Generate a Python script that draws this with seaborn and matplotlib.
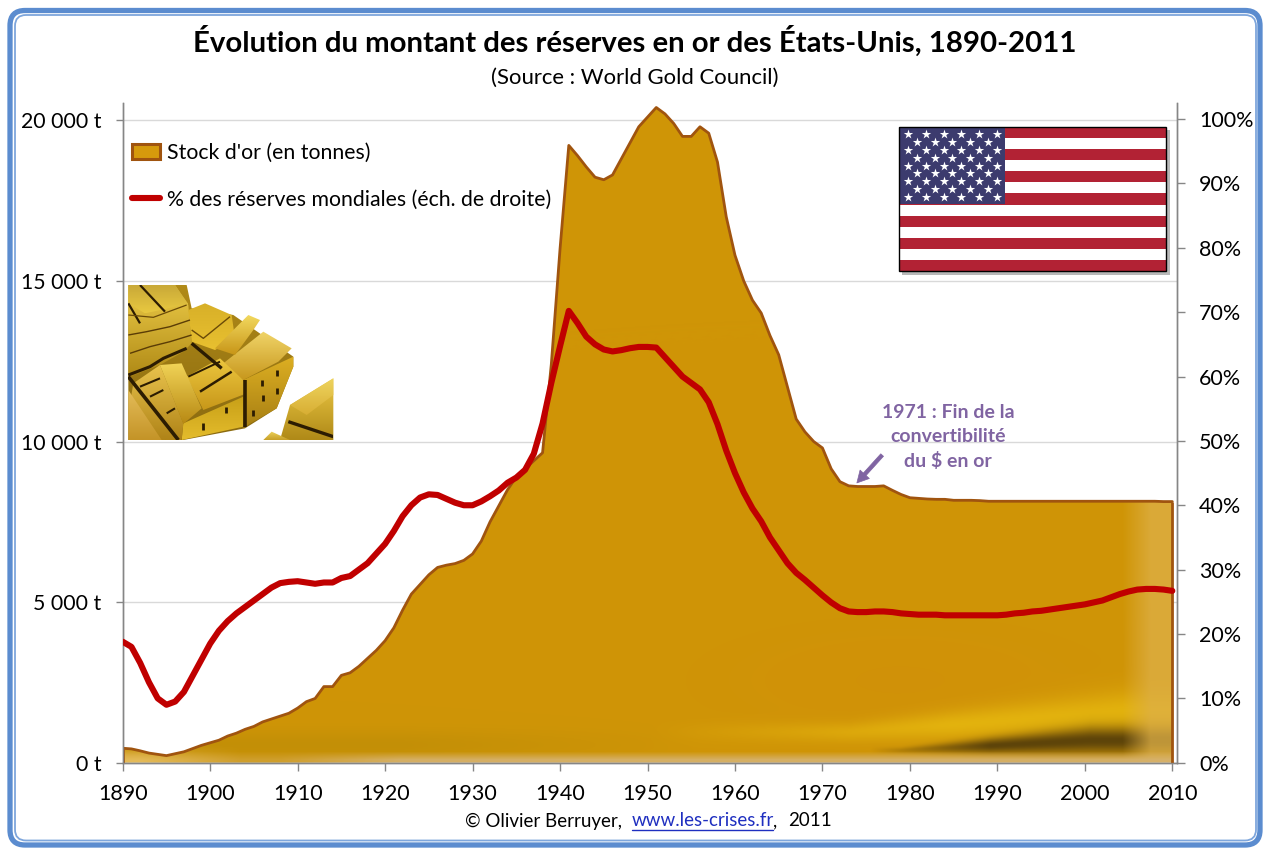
import numpy as np
import pandas as pd
import seaborn as sns
import matplotlib
matplotlib.use('Agg')
import matplotlib.pyplot as plt
from matplotlib.colors import to_rgb
from matplotlib.patches import FancyBboxPatch, Rectangle, Polygon, Patch
from matplotlib.lines import Line2D

# Data, one value per year
years = list(range(1890, 2011))
gold_tonnes = [
    450, 430, 370, 300, 260, 220, 280, 340, 440, 540,
    620, 700, 830, 920, 1040, 1130, 1270, 1360, 1450, 1540,
    1700, 1900, 2000, 2370, 2370, 2720, 2800, 3000, 3250, 3500,
    3800, 4200, 4750, 5250, 5550, 5850, 6080, 6150, 6200, 6300,
    6500, 6900, 7500, 8000, 8500, 8900, 9150, 9400, 9650, 12400,
    16000, 19220, 18900, 18550, 18230, 18150, 18300, 18800, 19300, 19800,
    20100, 20400, 20200, 19900, 19500, 19500, 19800, 19600, 18700, 17000,
    15800, 15000, 14400, 14000, 13300, 12700, 11700, 10700, 10300, 10000,
    9800, 9150, 8750, 8620, 8600, 8600, 8600, 8620, 8480, 8350,
    8250, 8230, 8210, 8200, 8200, 8170, 8170, 8170, 8160, 8140,
    8140, 8140, 8140, 8140, 8140, 8140, 8140, 8140, 8140, 8140,
    8140, 8140, 8140, 8140, 8140, 8140, 8140, 8140, 8140, 8130, 8130,
]
world_share = [
    18.8, 18.0, 15.5, 12.5, 10.0, 9.0, 9.5, 11.0, 13.5, 16.0,
    18.5, 20.5, 22.0, 23.2, 24.2, 25.2, 26.2, 27.2, 27.9, 28.1,
    28.2, 28.0, 27.8, 28.0, 28.0, 28.7, 29.0, 30.0, 31.0, 32.5,
    34.0, 36.0, 38.3, 40.0, 41.2, 41.7, 41.6, 41.0, 40.4, 40.0,
    40.0, 40.6, 41.4, 42.3, 43.5, 44.3, 45.5, 48.0, 52.7, 59.0,
    64.7, 70.2, 68.3, 66.2, 65.0, 64.2, 63.9, 64.1, 64.4, 64.6,
    64.6, 64.5, 63.0, 61.5, 60.0, 59.0, 58.0, 56.0, 52.6, 48.5,
    45.0, 42.0, 39.5, 37.5, 35.0, 33.0, 31.0, 29.5, 28.4, 27.2,
    26.0, 24.9, 24.0, 23.5, 23.4, 23.4, 23.5, 23.5, 23.4, 23.2,
    23.1, 23.0, 23.0, 23.0, 22.9, 22.9, 22.9, 22.9, 22.9, 22.9,
    22.9, 23.0, 23.2, 23.3, 23.5, 23.6, 23.8, 24.0, 24.2, 24.4,
    24.6, 24.9, 25.2, 25.7, 26.2, 26.6, 26.9, 27.0, 27.0, 26.9, 26.7,
]
x_ticks = list(range(1890, 2011, 10))
left_ticks = [0, 5000, 10000, 15000, 20000]
left_labels = ['0 t', '5 000 t', '10 000 t', '15 000 t', '20 000 t']
right_ticks = list(range(0, 101, 10))
right_labels = [f'{v}%' for v in right_ticks]

df = pd.DataFrame({'year': years, 'gold': gold_tonnes, 'share': world_share})

sns.set_theme(style='white')
plt.rcParams['font.family'] = ['Lato', 'DejaVu Sans']

W, H = 1269, 852
AXIS_GREY = '#868686'
GOLD_EDGE = '#a0540f'
RED = '#c00000'
PURPLE = '#8064a2'

fig = plt.figure(figsize=(W / 100, H / 100), dpi=100, facecolor='white')
L, R, T, B = 122.7, 1176.7, 103, 762.7
ax = fig.add_axes([L / W, 1 - B / H, (R - L) / W, (B - T) / H])

# gold stock, filled with a painted texture clipped to the area
ax.set_xlim(1890, 2010.5)
ax.set_ylim(0, 20540)
area = ax.fill_between(df['year'], df['gold'], 0, color='none', lw=0)

px, py = np.meshgrid(np.arange(L, R), np.arange(T, B))


def blend(img, colour, weight):
    return img * (1 - weight[..., None]) + np.array(colour) * weight[..., None]


tex = np.ones(px.shape + (3,)) * np.array([207, 149, 6])
tex = blend(tex, (212, 140, 12), 0.35 * np.exp(-((px - 900) / 200) ** 2 - ((py - 680) / 60) ** 2))
# yellow band rising to the right
band_y = 732 - np.clip((px - 850) / 280, 0, 1) * 20
band = np.exp(-((py - band_y) / (10 + np.clip((px - 850) / 280, 0, 1) * 12)) ** 2) * np.clip((px - 650) / 300, 0, 1)
tex = blend(tex, (228, 180, 14), 0.95 * band)
tex = blend(tex, (184, 138, 8), 0.5 * np.exp(-((py - 745) / 14) ** 2) * np.clip((700 - px) / 300, 0, 1))
# dark patch near the bottom, growing to the right
grow = np.clip((px - 900) / 190, 0, 1)
blob_w = np.exp(-((py - (750 - 10 * grow)) / (3 + 10 * grow)) ** 2) * np.clip((px - 870) / 120, 0, 1)
tex = blend(tex, (88, 64, 10), 0.95 * blob_w)
edge = np.clip((px - 1122) / 28, 0, 1)
tex = blend(tex, (222, 176, 72), 0.75 * edge)
low = np.clip((py - 751) / 8, 0, 1) * np.clip((px - 200) / 200, 0.4, 1)
tex = blend(tex, (214, 178, 110), 0.9 * low)
low_left = np.clip((py - 745) / 15, 0, 1) * np.clip((240 - px) / 100, 0, 1)
tex = blend(tex, (228, 186, 88), low_left)

img = ax.imshow(tex.astype(np.uint8), extent=[1890, 2010.5, 0, 20540], aspect='auto',
                origin='upper', zorder=2, interpolation='bilinear')
img.set_clip_path(area.get_paths()[0], transform=ax.transData)

sns.lineplot(data=df, x='year', y='gold', ax=ax, color=GOLD_EDGE, lw=2.0, zorder=3,
             solid_joinstyle='round')
ax.vlines([years[0], years[-1]], 0, [gold_tonnes[0], gold_tonnes[-1]], color=GOLD_EDGE, lw=2.0, zorder=3)

ax.set_xticks(x_ticks)
ax.set_yticks(left_ticks)
ax.set_yticklabels(left_labels)
ax.set_xlabel('')
ax.set_ylabel('')
ax.yaxis.grid(True, color='#d9d9d9', lw=1)
ax.set_axisbelow(True)
ax.tick_params(axis='x', length=5.5, width=1, color=AXIS_GREY, pad=10, labelsize=15.5, labelcolor='black', bottom=True)
ax.tick_params(axis='y', length=5.4, width=1, color=AXIS_GREY, pad=10, labelsize=15.3, labelcolor='black', left=True)
ax.spines['top'].set_visible(False)
for s in ['left', 'right', 'bottom']:
    ax.spines[s].set_color(AXIS_GREY)
    ax.spines[s].set_linewidth(1)

# share of world reserves, right scale
ax2 = ax.twinx()
sns.lineplot(data=df, x='year', y='share', ax=ax2, color=RED, lw=4.4, zorder=4,
             solid_capstyle='round', solid_joinstyle='round')
ax2.set_ylim(0, 102.5)
ax2.set_yticks(right_ticks)
ax2.set_yticklabels(right_labels)
ax2.set_ylabel('')
ax2.tick_params(axis='y', length=6, width=1, color=AXIS_GREY, pad=10, labelsize=15.5, labelcolor='black', right=True)
ax2.spines['top'].set_visible(False)
for s in ['left', 'right', 'bottom']:
    ax2.spines[s].set_color(AXIS_GREY)
    ax2.spines[s].set_linewidth(1)

# everything around the plot is placed in pixels on a transparent overlay
over = fig.add_axes([0, 0, 1, 1], zorder=5)
over.set_xlim(0, W)
over.set_ylim(H, 0)
over.axis('off')
over.patch.set_alpha(0)

over.add_patch(FancyBboxPatch((10, 10.5), 1250, 834.5, boxstyle='round,pad=0,rounding_size=15',
                              fc='none', ec='#5b8ccf', lw=3.8))
over.add_patch(FancyBboxPatch((15, 15), 1241, 825.5, boxstyle='round,pad=0,rounding_size=11',
                              fc='none', ec='#7ea6dc', lw=1.3))

over.text(634.5, 41, 'Évolution du montant des réserves en or des États-Unis, 1890-2011',
          ha='center', va='center', fontsize=21.2, fontweight='bold', color='black')
over.text(635, 78, '(Source : World Gold Council)', ha='center', va='center', fontsize=15.9, color='black')

# footer with the link
over.text(465, 821, '© Olivier Berruyer,', ha='left', va='center', fontsize=13.5, color='black')
over.text(631.5, 821, 'www.les-crises.fr', ha='left', va='center', fontsize=13.5, color='#1f2fc0')
over.plot([631.5, 772.5], [830, 830], color='#1f2fc0', lw=1)
over.text(773.5, 821, ',', ha='left', va='center', fontsize=13.5, color='black')
over.text(788, 821, '2011', ha='left', va='center', fontsize=13.5, color='black')

# legend
handles = [Patch(facecolor='#d69a0c', edgecolor=GOLD_EDGE, lw=2.2),
           Line2D([0], [0], color=RED, lw=4.4, solid_capstyle='round')]
over.legend(handles, ["Stock d'or (en tonnes)", '% des réserves mondiales (éch. de droite)'],
            loc='upper left', bbox_to_anchor=(113 / W, 1 - 124 / H), frameon=False, fontsize=15.3,
            handlelength=1.32, handleheight=0.7, handletextpad=0.33, labelspacing=1.25, labelcolor='black')

# annotation on 1971
over.text(948, 437, '1971 : Fin de la\nconvertibilité\ndu $ en or', ha='center', va='center',
          fontsize=14, fontweight='bold', color=PURPLE, linespacing=1.5)
over.annotate('', xy=(855, 485), xytext=(884, 453),
              arrowprops=dict(arrowstyle='simple,head_length=0.7,head_width=0.75,tail_width=0.22',
                              color=PURPLE, lw=0.5))

# flag
fx0, fx1, fy0, fy1 = 898.7, 1166, 126.7, 271.3
over.add_patch(Rectangle((fx0 + 3, fy0 + 3), fx1 - fx0 + 1, fy1 - fy0 + 1, fc='#8a8a8a', ec='none', alpha=0.6))
stripe = (fy1 - fy0) / 13
for i in range(13):
    over.add_patch(Rectangle((fx0, fy0 + i * stripe), fx1 - fx0, stripe,
                             fc='#b22234' if i % 2 == 0 else 'white', ec='none'))
over.add_patch(Rectangle((fx0, fy0), 1005.3 - fx0, 204 - fy0, fc='#3c3b6e', ec='none'))
over.add_patch(Rectangle((fx0, fy0), fx1 - fx0, fy1 - fy0, fc='none', ec='black', lw=1))
for row in range(9):
    n = 6 if row % 2 == 0 else 5
    off = 0 if row % 2 == 0 else 8.83
    over.scatter([908.3 + off + 17.67 * c for c in range(n)], [134.3 + 7.8 * row] * n,
                 marker='*', s=50, color='white', linewidths=0, zorder=6)


# stack of gold bars, sketched in a 3x grid whose origin is (120, 280)
def to_px(pts):
    return [(120 + a / 3, 280 + b / 3) for a, b in pts]


clip = Rectangle((128.3, 285), 205, 155, transform=over.transData)


def glossy(pts, top, bottom):
    pts = to_px(pts)
    xs, ys = zip(*pts)
    grad = np.linspace(to_rgb(top), to_rgb(bottom), 32)[:, None, :]
    im = over.imshow(grad, extent=[min(xs), max(xs), max(ys), min(ys)], aspect='auto', zorder=3,
                     interpolation='bilinear')
    patch = Polygon(pts, closed=True, transform=over.transData, fc='none', ec='none')
    over.add_patch(patch)
    im.set_clip_path(patch)


def stroke(pts, lw=1.2, col='#2c1c02'):
    xs, ys = zip(*to_px(pts))
    line, = over.plot(xs, ys, color=col, lw=lw, zorder=4, solid_capstyle='butt')
    line.set_clip_path(clip)


# backdrop so no white shows through the pile
glossy([(25, 15), (200, 15), (215, 85), (340, 105), (520, 230), (520, 260), (470, 385), (375, 445),
        (190, 480), (25, 480)], '#b08a18', '#8a6a10')
glossy([(25, 15), (165, 15), (205, 75), (215, 190), (190, 215), (120, 255), (30, 290), (25, 290)], '#eccb48', '#b08a16')
glossy([(25, 15), (165, 15), (205, 72), (75, 100), (25, 70)], '#c8a838', '#e8c840')
stroke([(60, 15), (135, 95)], 1.6)
stroke([(25, 70), (60, 130)], 1.6)
stroke([(25, 105), (100, 112), (200, 75)], 0.9, '#6a4a08')
stroke([(25, 165), (80, 155), (150, 140), (210, 120)], 1, '#5a3c06')
stroke([(30, 220), (90, 200), (150, 185), (215, 165)], 1, '#5a3c06')
stroke([(25, 285), (90, 260), (130, 235), (200, 205)], 2.2)
glossy([(205, 90), (255, 70), (335, 105), (345, 175), (285, 210), (215, 185)], '#d8b028', '#e8c030')
stroke([(215, 150), (250, 175), (330, 110)], 1, '#6a4a08')
stroke([(215, 190), (305, 265)], 2.4)
glossy([(370, 300), (520, 230), (520, 260), (470, 385), (375, 440)], '#dcae22', '#a88014')
for a, b in [(425, 300), (470, 270), (430, 345), (470, 325), (400, 390)]:
    stroke([(a, b), (a, b + 18)], 2)
stroke([(375, 300), (375, 440)], 2.6)
glossy([(310, 250), (430, 155), (515, 205), (475, 245), (370, 300)], '#f0d468', '#c8981e')
glossy([(285, 205), (385, 105), (420, 120), (400, 150), (345, 225)], '#f2d85e', '#c89618')
glossy([(200, 290), (300, 235), (370, 300), (380, 340), (250, 390)], '#ecc63e', '#c8981a')
stroke([(205, 290), (300, 245)], 1.4)
stroke([(240, 335), (335, 275)], 1.8)
glossy([(190, 430), (370, 350), (370, 440), (185, 480)], '#c8a018', '#e4bc2c')
stroke([(250, 430), (250, 450)], 2)
stroke([(318, 380), (318, 400)], 2)
glossy([(40, 310), (120, 255), (190, 430), (185, 480), (60, 480), (25, 400)], '#e8c24c', '#b08418')
glossy([(120, 255), (185, 250), (245, 385), (190, 432)], '#f0d256', '#b88a14')
glossy([(25, 330), (125, 480), (25, 480)], '#e4bc58', '#c49428')
stroke([(25, 290), (175, 480)], 2.6)
stroke([(60, 320), (120, 295)], 1.5)
stroke([(90, 350), (130, 330)], 1.5)
stroke([(140, 400), (165, 385)], 1.5)
glossy([(510, 375), (640, 295), (640, 480), (480, 480)], '#ecc844', '#b08a18')
glossy([(510, 375), (640, 295), (640, 345), (560, 405)], '#eed45e', '#d8ae34')
stroke([(505, 425), (640, 470)], 2.4)
glossy([(430, 480), (455, 455), (510, 480)], '#ecd25c', '#c8a028')

over.set_xlim(0, W)
over.set_ylim(H, 0)
over.set_aspect('auto')
fig.savefig('out.png', dpi=100)
